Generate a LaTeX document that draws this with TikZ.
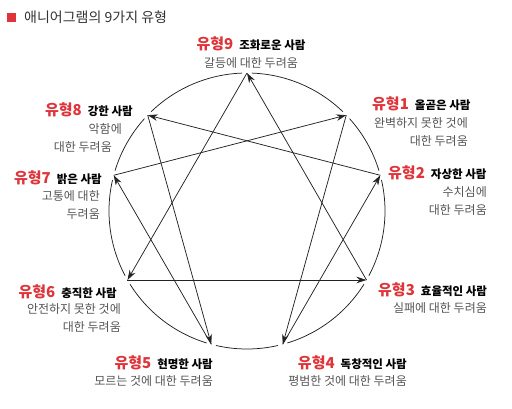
\documentclass[tikz,border=0pt]{standalone}
\usepackage{fontspec}
\setmainfont{Noto Sans CJK KR}
\usetikzlibrary{arrows.meta}

\definecolor{typered}{RGB}{222,52,58}
\definecolor{descgray}{RGB}{85,85,85}
\definecolor{linegray}{RGB}{35,35,35}

\tikzset{
  hdr/.style={inner sep=0pt, font=\fontsize{11.5}{13}\selectfont\bfseries, text=black},
  desc/.style={inner sep=0pt, font=\fontsize{12}{18.5}\selectfont, text=descgray},
  link/.style={draw=linegray, line width=0.75pt, -{Stealth[length=10pt,width=6.5pt]}},
  ring/.style={draw=linegray, line width=0.75pt},
}
\newcommand{\typ}[1]{{\fontsize{15}{16}\selectfont\color{typered}유형#1}\hspace{6pt}}

\begin{document}
\begin{tikzpicture}[x=1pt,y=1pt]
   \useasboundingbox (-247,-197) rectangle (265,211);

   % title
   \fill[typered] (-239.5,189.5) rectangle +(9,9);
   \node[inner sep=0pt, anchor=west, font=\fontsize{14}{16}\selectfont, text={rgb,255:red,51;green,51;blue,51}]
      (title) at (-223,194) {애니어그램의 9가지 유형};

   % points on the circle
   \coordinate (p9) at (90:138);
   \coordinate (p1) at (44:138);
   \coordinate (p2) at (15:138);
   \coordinate (p3) at (-30:138);
   \coordinate (p4) at (-75:138);
   \coordinate (p5) at (-105:138);
   \coordinate (p6) at (-150:138);
   \coordinate (p7) at (165:138);
   \coordinate (p8) at (136:138);

   % circle, broken at each point
   \foreach \a/\b in {90/44,44/15,15/-30,-30/-75,-75/-105,-105/-150,-150/-195,-195/-224,-224/-270}
      \draw[ring] ({\a-2}:138) arc[start angle=\a-2, end angle=\b+2, radius=138];

   % triangle
   \draw[link] (p3) -- (p9);
   \draw[link] (p9) -- (p6);
   \draw[link] (p6) -- (p3);

   % hexad
   \draw[link] (p1) -- (p4);
   \draw[link] (p4) -- (p2);
   \draw[link] (p2) -- (p8);
   \draw[link] (p8) -- (p5);
   \draw[link] (p5) -- (p7);
   \draw[link] (p7) -- (p1);

   % labels
   \node[hdr]                  (h9) at (4,167)     {\typ{9}조화로운 사람};
   \node[desc]                 (d9) at (4,148)     {갈등에 대한 두려움};

   \node[hdr, anchor=west]     (h1) at (125,107)   {\typ{1}올곧은 사람};
   \node[desc, anchor=north east, align=right] (d1) at (221,94) {완벽하지 못한 것에\\대한 두려움};

   \node[hdr, anchor=west]     (h2) at (141,38)    {\typ{2}자상한 사람};
   \node[desc, anchor=north east, align=right] (d2) at (240,25) {수치심에\\대한 두려움};

   \node[hdr, anchor=west]     (h3) at (131,-79)   {\typ{3}효율적인 사람};
   \node[desc]                 (d3) at (193,-97)   {실패에 대한 두려움};

   \node[hdr, anchor=east]     (h4) at (160,-152)  {\typ{4}독창적인 사람};
   \node[desc, anchor=east]    (d4) at (160,-170)  {평범한 것에 대한 두려움};

   \node[hdr, anchor=east]     (h5) at (-34,-152)  {\typ{5}현명한 사람};
   \node[desc, anchor=east]    (d5) at (-34,-170)  {모르는 것에 대한 두려움};

   \node[hdr, anchor=east]     (h6) at (-130,-81)  {\typ{6}충직한 사람};
   \node[desc, anchor=north east, align=right] (d6) at (-126,-92) {안전하지 못한 것에\\대한 두려움};

   \node[hdr, anchor=east]     (h7) at (-145,33)   {\typ{7}밝은 사람};
   \node[desc, anchor=north east, align=right] (d7) at (-147,21) {고통에 대한\\두려움};

   \node[hdr, anchor=east]     (h8) at (-114,101)  {\typ{8}강한 사람};
   \node[desc, anchor=north east, align=right] (d8) at (-125,88) {악함에\\대한 두려움\hspace*{10pt}};

\end{tikzpicture}
\end{document}
